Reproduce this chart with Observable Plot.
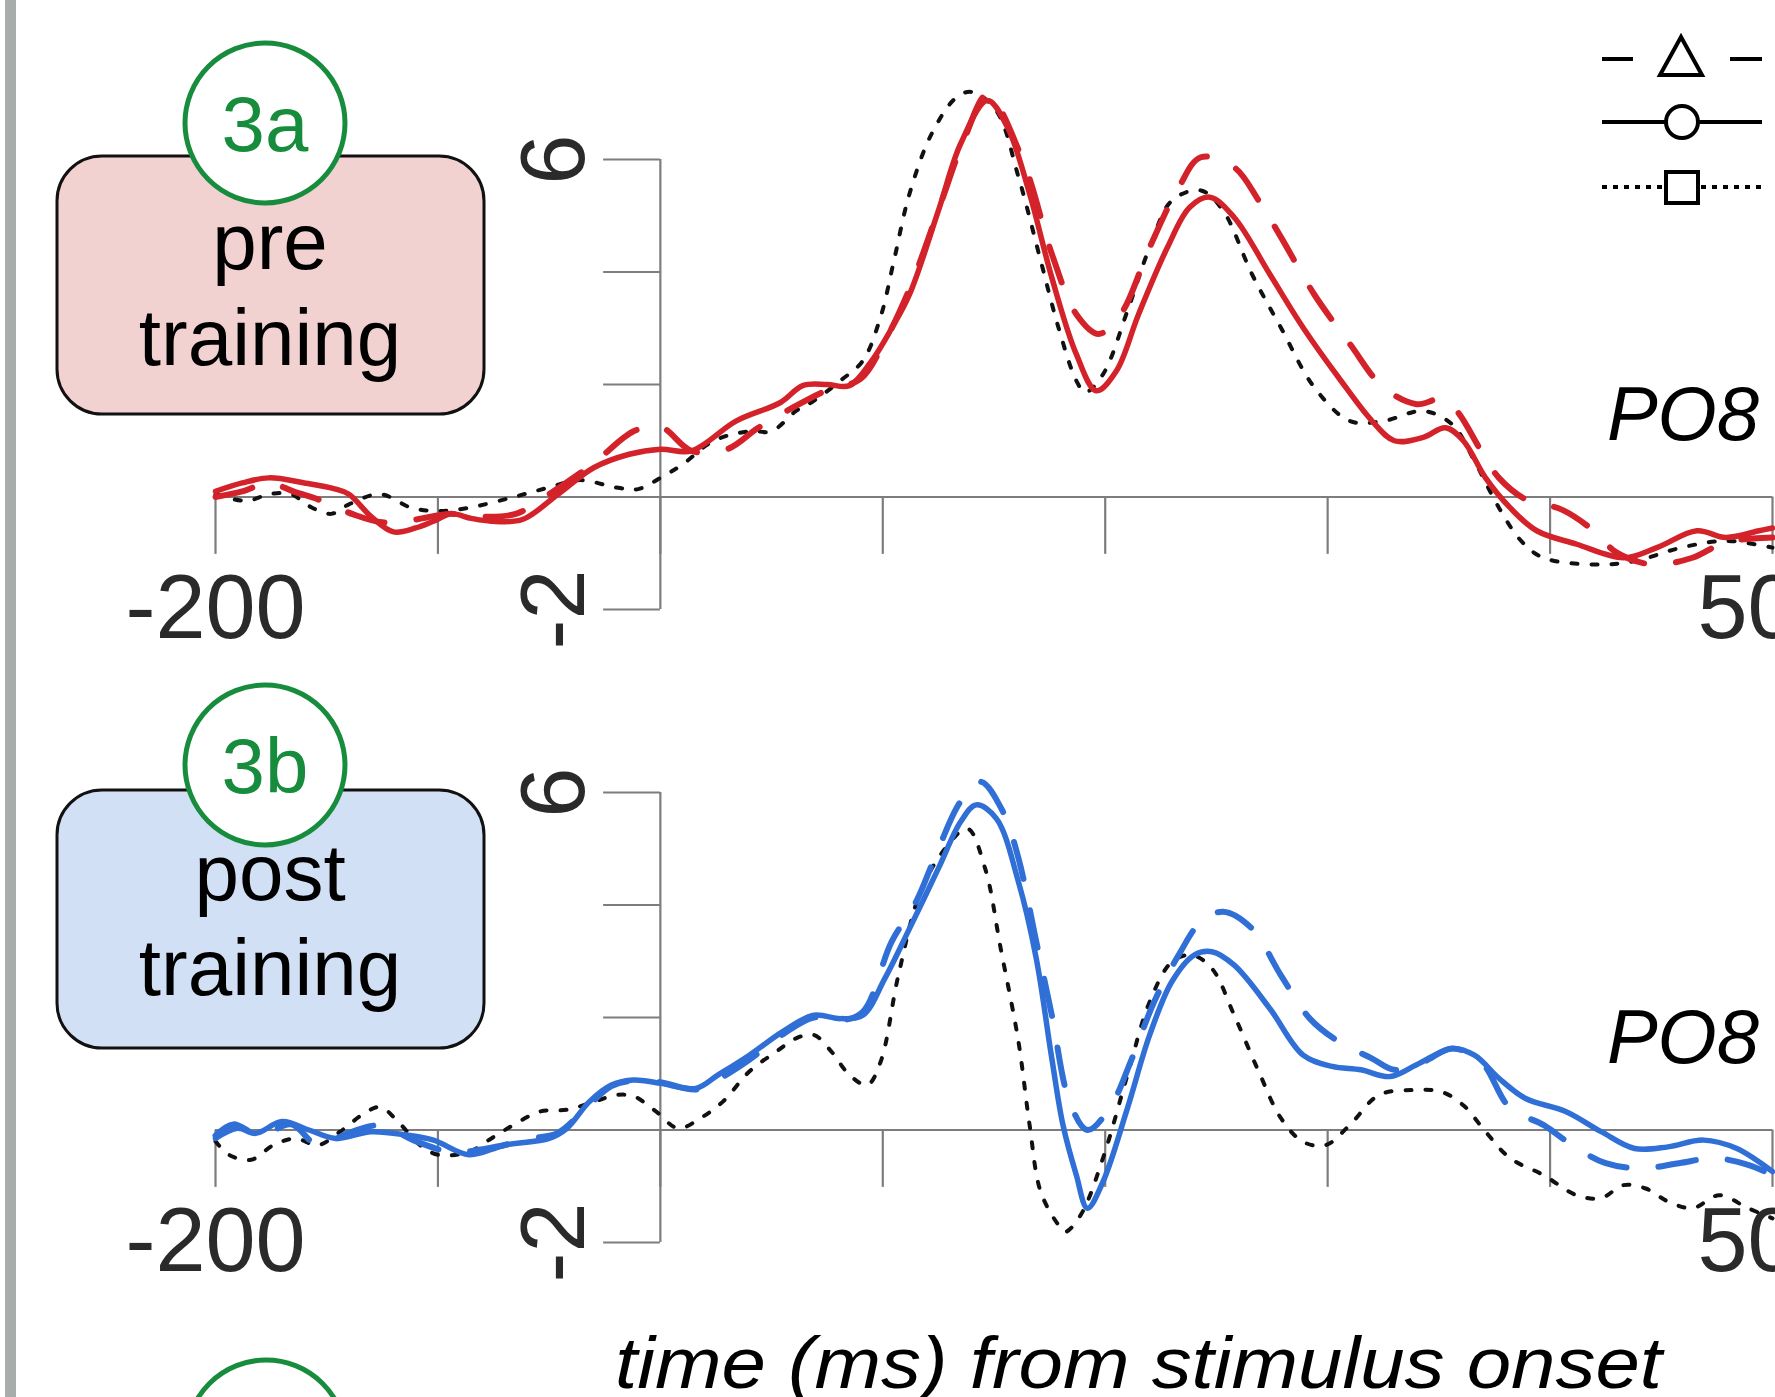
<!DOCTYPE html>
<html>
<head>
<meta charset="utf-8">
<script src="https://cdn.jsdelivr.net/npm/d3@7"></script>
<script src="https://cdn.jsdelivr.net/npm/@observablehq/plot@0.6"></script>
<style>
  html, body { margin: 0; padding: 0; background: #fff; }
  #page { position: relative; width: 1775px; height: 1397px; overflow: hidden; background: #fff;
          font-family: "Liberation Sans", Arial, Helvetica, sans-serif; }
  #deco { position: absolute; left: 0; top: 0; }
  .panel { position: absolute; left: 0; }
</style>
</head>
<body>
<div id="page">
<svg id="deco" width="1775" height="1397" viewBox="0 0 1775 1397" font-family="'Liberation Sans', Arial, Helvetica, sans-serif">
  <rect x="5" y="0" width="11" height="1397" fill="#a8acab"/>
  <!-- panel 3a label -->
  <rect x="57" y="156" width="427" height="258" rx="45" ry="45" fill="#f2d1d1" stroke="#111" stroke-width="3"/>
  <circle cx="265" cy="123" r="80" fill="#fff" stroke="#178c3d" stroke-width="5"/>
  <text x="265" y="151" font-size="78" fill="#178c3d" text-anchor="middle">3a</text>
  <text x="270" y="269" font-size="80" fill="#000" text-anchor="middle">pre</text>
  <text x="270" y="365" font-size="80" fill="#000" text-anchor="middle">training</text>
  <!-- panel 3b label -->
  <rect x="57" y="790" width="427" height="258" rx="45" ry="45" fill="#d2e0f5" stroke="#111" stroke-width="3"/>
  <circle cx="265" cy="765" r="80" fill="#fff" stroke="#178c3d" stroke-width="5"/>
  <text x="265" y="793" font-size="78" fill="#178c3d" text-anchor="middle">3b</text>
  <text x="270" y="900" font-size="80" fill="#000" text-anchor="middle">post</text>
  <text x="270" y="995" font-size="80" fill="#000" text-anchor="middle">training</text>
  <!-- next panel circle, cut off -->
  <circle cx="266" cy="1440" r="80" fill="#fff" stroke="#178c3d" stroke-width="5"/>
  <!-- electrode labels -->
  <text x="1759" y="440" font-size="76" font-style="italic" text-anchor="end" fill="#000">PO8</text>
  <text x="1759" y="1063" font-size="76" font-style="italic" text-anchor="end" fill="#000">PO8</text>
  <!-- x axis title -->
  <text x="615" y="1388" font-size="73" font-style="italic" fill="#000" textLength="1047" lengthAdjust="spacingAndGlyphs">time (ms) from stimulus onset</text>
  <!-- legend -->
  <g stroke="#000" stroke-width="4" fill="#fff">
    <line x1="1602" y1="59" x2="1633" y2="59"/>
    <line x1="1730" y1="59" x2="1762" y2="59"/>
    <polygon points="1681,37 1660,75 1702,75"/>
    <line x1="1602" y1="122" x2="1762" y2="122"/>
    <circle cx="1682" cy="122" r="16"/>
    <line x1="1602" y1="187" x2="1762" y2="187" stroke-dasharray="5 6"/>
    <rect x="1666" y="172" width="32" height="31"/>
  </g>
</svg>
<div id="top" class="panel" style="top:0px"></div>
<div id="bottom" class="panel" style="top:633px"></div>
</div>
<script>
// ---- data (time in ms, amplitude in µV) ----
const xTicks = [-200, -100, 0, 100, 200, 300, 400, 500];
const xTickLabels = [-200, 500];
const yTicks = [-2, 0, 2, 4, 6];
const yTickLabels = [-2, 6];

// pre training (3a), PO8
const preDashed = [[-200,0.0],[-188,0.1],[-176,0.25],[-165,0.1],[-152,-0.07],[-138,-0.31],[-125,-0.45],[-110,-0.4],[-95,-0.3],[-80,-0.35],[-65,-0.3],[-50,0.05],[-30,0.6],[-12,1.17],[0,1.25],[14,0.82],[30,0.85],[44,1.23],[60,1.6],[75,1.9],[90,2.1],[100,2.7],[112,3.7],[125,5.1],[137,6.4],[147,7.15],[163,5.98],[176,4.32],[187,3.25],[197,2.9],[207,3.25],[220,4.44],[233,5.5],[243,6.04],[258,5.86],[269,5.27],[279,4.62],[294,3.6],[310,2.72],[325,1.95],[340,1.65],[351,1.74],[358,1.53],[369,0.82],[377,0.34],[389,-0.04],[405,-0.22],[419,-0.58],[430,-0.99],[446,-1.2],[464,-1.08],[479,-0.8],[500,-0.72]];
const preSolid = [[-200,0.1],[-188,0.25],[-176,0.34],[-160,0.25],[-146,0.14],[-140,0.05],[-130,-0.35],[-120,-0.62],[-110,-0.55],[-102,-0.43],[-94,-0.3],[-85,-0.38],[-76,-0.43],[-62,-0.4],[-46,0.05],[-30,0.52],[-14,0.76],[0,0.85],[14,0.82],[34,1.35],[54,1.68],[64,1.98],[75,2.0],[85,1.98],[95,2.42],[104,3.0],[112,3.6],[125,5.09],[135,6.28],[147,7.05],[156,6.58],[166,5.39],[176,3.9],[187,2.54],[196,1.89],[205,2.24],[215,3.25],[228,4.44],[238,5.15],[247,5.33],[258,4.97],[274,3.96],[289,3.01],[305,2.12],[320,1.35],[330,1.0],[343,1.06],[353,1.23],[361,1.0],[371,0.34],[382,-0.19],[394,-0.6],[412,-0.84],[433,-1.08],[448,-0.9],[466,-0.6],[479,-0.72],[494,-0.6],[500,-0.55]];
const preDotted = [[-200,0.05],[-186,-0.07],[-176,0.05],[-166,0.05],[-158,-0.16],[-148,-0.3],[-140,-0.13],[-126,0.05],[-112,-0.19],[-100,-0.25],[-86,-0.19],[-66,0.0],[-50,0.17],[-36,0.3],[-20,0.17],[-10,0.14],[0,0.34],[10,0.58],[24,1.0],[40,1.17],[50,1.17],[61,1.53],[69,1.71],[81,2.07],[91,2.42],[99,3.2],[105,4.2],[112,5.39],[122,6.46],[133,7.1],[140,7.2],[151,6.87],[161,5.69],[171,4.2],[179,3.01],[187,2.07],[191,1.86],[199,2.18],[210,3.31],[220,4.44],[230,5.27],[243,5.45],[253,5.09],[266,3.96],[279,3.01],[294,1.95],[310,1.35],[325,1.35],[343,1.53],[356,1.29],[366,0.64],[377,-0.19],[387,-0.78],[397,-1.08],[420,-1.2],[438,-1.14],[459,-0.9],[479,-0.78],[500,-0.9]];

// post training (3b), PO8
const postDashed = [[-200,-0.1],[-192,0.1],[-180,-0.1],[-166,0.1],[-154,-0.27],[-140,-0.05],[-126,0.08],[-110,-0.2],[-94,-0.39],[-78,-0.33],[-58,-0.15],[-46,-0.05],[-32,0.45],[-22,0.78],[-12,0.88],[0,0.85],[16,0.72],[26,0.9],[40,1.25],[55,1.7],[69,2.0],[81,1.95],[91,2.1],[104,3.35],[115,4.06],[125,5.0],[135,5.84],[144,6.19],[154,5.66],[161,4.83],[169,3.35],[176,2.04],[184,0.5],[192,0.0],[202,0.39],[212,1.27],[222,2.28],[233,3.11],[243,3.7],[253,3.88],[266,3.58],[279,2.75],[292,1.98],[305,1.57],[320,1.27],[330,1.07],[343,1.21],[356,1.45],[369,1.21],[382,0.39],[397,0.09],[410,-0.27],[425,-0.59],[441,-0.68],[458,-0.59],[474,-0.5],[489,-0.62],[500,-0.8]];
const postSolid = [[-200,-0.15],[-190,0.03],[-182,-0.06],[-170,0.15],[-158,0.0],[-146,-0.15],[-130,-0.03],[-114,-0.09],[-102,-0.18],[-86,-0.44],[-70,-0.27],[-50,-0.15],[-42,0.03],[-32,0.5],[-22,0.8],[-12,0.89],[0,0.83],[16,0.74],[26,0.98],[40,1.33],[55,1.75],[69,2.04],[81,1.98],[91,2.04],[101,2.7],[112,3.58],[125,4.65],[135,5.48],[142,5.78],[151,5.54],[161,4.41],[169,3.05],[176,1.27],[181,0.09],[187,-0.8],[192,-1.39],[199,-0.92],[210,0.39],[220,1.69],[230,2.64],[240,3.11],[248,3.17],[258,2.93],[274,2.16],[289,1.33],[302,1.13],[315,1.07],[328,0.95],[340,1.16],[356,1.45],[366,1.33],[377,0.92],[389,0.56],[407,0.33],[423,-0.03],[438,-0.33],[453,-0.3],[469,-0.18],[484,-0.33],[500,-0.74]];
const postDotted = [[-200,-0.2],[-194,-0.44],[-184,-0.53],[-174,-0.27],[-164,-0.15],[-154,-0.27],[-144,-0.03],[-134,0.27],[-126,0.41],[-118,0.15],[-108,-0.27],[-100,-0.44],[-86,-0.39],[-76,-0.15],[-66,0.09],[-54,0.33],[-42,0.36],[-30,0.5],[-20,0.62],[-12,0.6],[-2,0.33],[8,0.03],[18,0.21],[28,0.5],[40,1.04],[52,1.39],[61,1.63],[69,1.69],[77,1.39],[85,0.98],[93,0.8],[99,1.21],[107,2.75],[117,4.24],[128,5.0],[138,5.36],[146,4.65],[153,3.23],[161,1.57],[166,0.09],[171,-1.1],[179,-1.69],[182,-1.81],[189,-1.51],[199,-0.5],[210,0.98],[220,2.28],[230,2.99],[239,3.11],[248,2.87],[258,2.04],[269,1.04],[279,0.21],[289,-0.21],[299,-0.27],[310,0.09],[323,0.62],[338,0.71],[351,0.68],[361,0.44],[371,-0.03],[382,-0.5],[397,-0.8],[412,-1.16],[423,-1.21],[433,-0.98],[443,-1.04],[453,-1.27],[464,-1.39],[476,-1.16],[489,-1.39],[500,-1.57]];

const RED = "#d3222a";
const BLUE = "#2f6fd6";
const AXIS = "#7d7d7d";

function panel(dashed, solid, dotted, color, height) {
  const xy = {x: d => d[0], y: d => d[1], curve: "catmull-rom"};
  return Plot.plot({
    width: 1775,
    height,
    marginLeft: 215,
    marginRight: 3,
    marginTop: 159,
    marginBottom: height - 609,
    x: {domain: [-200, 500], axis: null},
    y: {domain: [-2, 6], axis: null},
    style: {background: "transparent", overflow: "visible",
            fontFamily: "'Liberation Sans', Arial, Helvetica, sans-serif"},
    marks: [
      Plot.ruleY([0], {x1: () => -200, x2: () => 500, stroke: AXIS, strokeWidth: 2.2}),
      Plot.ruleX([0], {y1: () => -2, y2: () => 6, stroke: AXIS, strokeWidth: 2.2}),
      Plot.ruleX(xTicks, {x: d => d, y1: () => 0, y2: () => -1.02, stroke: AXIS, strokeWidth: 2.2}),
      Plot.ruleY(yTicks, {y: d => d, x1: () => -25.5, x2: () => 0, stroke: AXIS, strokeWidth: 2.2}),
      Plot.text(xTickLabels, {x: d => d, y: () => -2, text: d => String(d), fontSize: 90, fill: "#2a2a2a"}),
      Plot.text(yTickLabels, {x: () => 0, y: d => d, text: d => String(d), rotate: -90, dx: -105, fontSize: 90, fill: "#2a2a2a"}),
      Plot.line(dotted, {...xy, stroke: "#111", strokeWidth: 4, strokeDasharray: "6 14"}),
      Plot.line(dashed, {...xy, stroke: color, strokeWidth: 6, strokeDasharray: "38 32", strokeLinecap: "round"}),
      Plot.line(solid, {...xy, stroke: color, strokeWidth: 5.5})
    ]
  });
}

document.getElementById("top").append(panel(preDashed, preSolid, preDotted, RED, 633));
document.getElementById("bottom").append(panel(postDashed, postSolid, postDotted, BLUE, 764));
</script>
</body>
</html>
